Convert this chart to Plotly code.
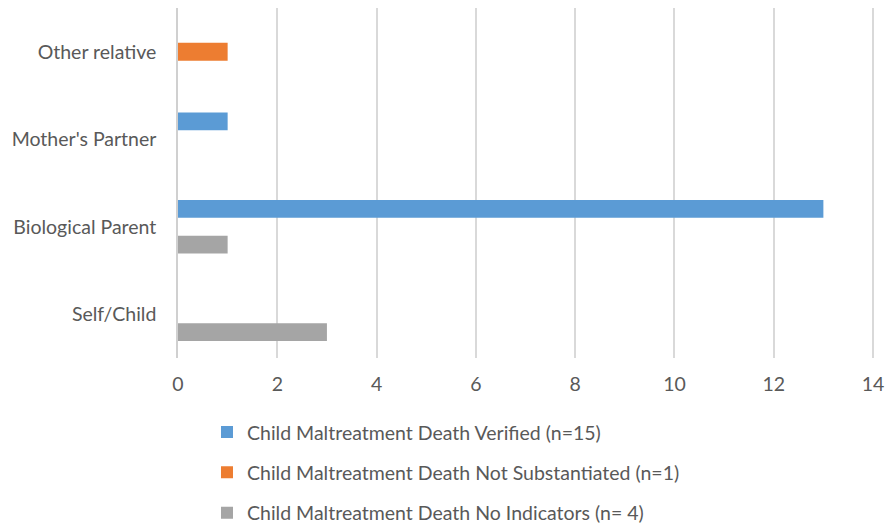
import plotly.graph_objects as go

categories = ["Self/Child", "Biological Parent", "Mother's Partner", "Other relative"]
verified = [None, 13, 1, None]
not_substantiated = [None, None, None, 1]
no_indicators = [3, 1, None, None]

names = [
    "Child Maltreatment Death Verified (n=15)",
    "Child Maltreatment Death Not Substantiated (n=1)",
    "Child Maltreatment Death No Indicators (n= 4)",
]
colors = ["#5B9BD5", "#ED7D31", "#A5A5A5"]

FONT = "Lato, 'Open Sans', sans-serif"
FS = 19.5

fig = go.Figure()
# add in reverse so that the first series sits on top inside each group
for name, vals, col, grp, rank in [
    (names[2], no_indicators, colors[2], "c", 3),
    (names[1], not_substantiated, colors[1], "b", 2),
    (names[0], verified, colors[0], "a", 1),
]:
    fig.add_trace(go.Bar(
        y=categories, x=vals, name=name, orientation="h",
        marker=dict(color=col, line=dict(width=0)),
        legendgroup=grp, legendrank=rank,
    ))

fig.update_layout(
    width=888, height=527,
    margin=dict(l=178, r=12, t=8, b=169, autoexpand=False),
    paper_bgcolor="white", plot_bgcolor="white",
    barmode="group", bargap=0.386, bargroupgap=0,
    font=dict(family=FONT, size=FS, color="#595959"),
    showlegend=True,
    legend=dict(
        orientation="v", traceorder="grouped", tracegroupgap=12,
        xref="container", yref="container",
        x=0.2331, y=0.2167, xanchor="left", yanchor="top",
        font=dict(family=FONT, size=FS, color="#595959"),
        itemwidth=30,
    ),
    xaxis=dict(
        range=[0, 14.06], tickvals=[0, 2, 4, 6, 8, 10, 12, 14],
        showgrid=True, gridcolor="#D9D9D9", gridwidth=1.5,
        zeroline=False, showline=False, ticks="", ticklabelstandoff=12,
        tickangle=0, automargin=False,
        tickfont=dict(family=FONT, size=FS, color="#595959"),
    ),
    yaxis=dict(
        categoryorder="array", categoryarray=categories,
        showgrid=False, zeroline=False, showline=True, linecolor="#D0D0D0", linewidth=1.5,
        ticks="", ticklabelstandoff=16, automargin=False,
        tickfont=dict(family=FONT, size=FS, color="#595959"),
    ),
)

# remove the browser's default 8px body margin so the figure fills the window
fig.write_html(
    "out.html",
    config={"displayModeBar": False},
    post_script="document.body.style.margin='0';document.body.style.overflow='hidden';",
)
